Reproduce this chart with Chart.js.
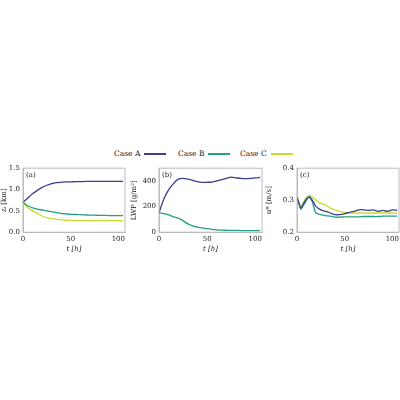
<!DOCTYPE html><html><head><script src="https://cdn.jsdelivr.net/npm/chart.js@4"></script>
<style>body{margin:0;width:400px;height:400px;position:relative;background:#fff;font-family:"DejaVu Serif",serif}
.c{position:absolute}#lg{position:absolute;top:149px;left:0;width:400px;font-size:7.5px;color:#222}
#lg span{position:absolute;white-space:nowrap}#lg i{display:inline-block;width:22px;height:2px;vertical-align:middle;margin-left:4px}</style></head><body>
<div id="lg"><span style="left:114px">Case A<i style="background:#3f3d8f"></i></span><span style="left:178px">Case B<i style="background:#23a083"></i></span><span style="left:240px">Case C<i style="background:#c5de2b"></i></span></div>
<div class="c" style="left:0;top:163px;width:128px;height:90px"><canvas id="a"></canvas></div>
<div class="c" style="left:130px;top:163px;width:134px;height:90px"><canvas id="b"></canvas></div>
<div class="c" style="left:265px;top:163px;width:135px;height:90px"><canvas id="c"></canvas></div>
<script>
const tAB=[0,5,10,15,20,25,30,35,40,45,50,55,60,65,70,75,80,85,90,95,100,105];
const ziA=[0.7,0.8,0.9,0.98,1.05,1.1,1.14,1.16,1.17,1.18,1.18,1.185,1.185,1.19,1.19,1.19,1.19,1.19,1.19,1.19,1.19,1.19];
const ziB=[0.7,0.62,0.57,0.54,0.52,0.5,0.48,0.46,0.44,0.43,0.42,0.415,0.41,0.405,0.4,0.4,0.395,0.395,0.39,0.39,0.39,0.39];
const ziC=[0.7,0.58,0.5,0.44,0.38,0.34,0.32,0.3,0.29,0.28,0.275,0.27,0.27,0.27,0.27,0.27,0.27,0.27,0.27,0.27,0.27,0.27];
const lwpA=[150,260,330,380,415,420,415,405,395,390,390,392,400,410,420,430,425,420,418,420,425,428];
const lwpB=[150,145,135,120,110,90,65,50,40,33,28,22,18,16,15,14,14,13,13,12,12,12];
const tC=[0,2,4,6,8,10,13,16,18,20,25,30,35,40,45,50,55,60,65,70,75,80,85,90,95,100,105];
const usA=[.31,.29,.275,.285,.295,.305,.31,.30,.29,.28,.27,.265,.26,.255,.255,.258,.262,.265,.27,.27,.268,.27,.265,.268,.265,.27,.268];
const usB=[.305,.29,.272,.28,.29,.30,.31,.295,.275,.26,.255,.252,.25,.247,.247,.248,.248,.248,.248,.249,.249,.249,.249,.25,.25,.25,.25];
const usC=[.31,.295,.28,.29,.30,.31,.315,.31,.305,.30,.29,.285,.275,.27,.265,.262,.26,.26,.26,.26,.26,.26,.26,.26,.26,.26,.26];
const xTicks=[0,50,100];
const col={A:'#3f3d8f',B:'#23a083',C:'#c5de2b'};
const F={family:'DejaVu Serif',size:7};
function pts(t,v){return t.map((x,i)=>({x,y:v[i]}));}
function mk(id,sets,ymin,ymax,yt,dec,ylab,yw,tag,pr){
 new Chart(document.getElementById(id),{type:'line',
 data:{datasets:sets.map(s=>({data:s[0],borderColor:s[1],borderWidth:1.3,pointRadius:0,tension:0.3}))},
 options:{responsive:true,maintainAspectRatio:false,animation:false,
 layout:{padding:{top:5,right:pr,left:0,bottom:0}},
 plugins:{legend:{display:false},tooltip:{enabled:false}},
 scales:{x:{type:'linear',min:0,max:107,afterBuildTicks:s=>{s.ticks=xTicks.map(v=>({value:v}))},
   ticks:{font:F,color:'#222',maxRotation:0,autoSkip:false,padding:1},
   grid:{display:false,tickLength:2},border:{color:'#bbb'},title:{display:true,text:'t [h]',font:{...F,style:'italic'},color:'#222',padding:0}},
  y:{min:ymin,max:ymax,afterBuildTicks:s=>{s.ticks=yt.map(v=>({value:v}))},
   ticks:{font:F,color:'#222',autoSkip:false,padding:1,callback:v=>v.toFixed(dec)},
   grid:{display:false,tickLength:2},border:{color:'#bbb'},afterFit:s=>{s.width=yw},
   title:{display:true,text:ylab,font:F,color:'#222',padding:0}}}},
 plugins:[{id:'tg',afterDraw(c){const a=c.chartArea,x=c.ctx;x.save();x.strokeStyle='#bbb';x.strokeRect(a.left,a.top,a.right-a.left,a.bottom-a.top);
  x.font='7px DejaVu Serif';x.fillStyle='#222';x.fillText(tag,a.left+3,a.top+9);x.restore();}}]});
}
mk('a',[[pts(tAB,ziA),col.A],[pts(tAB,ziB),col.B],[pts(tAB,ziC),col.C]],0,1.5,[0,0.5,1,1.5],1,'zᵢ [km]',23,'(a)',3);
mk('b',[[pts(tAB,lwpA),col.A],[pts(tAB,lwpB),col.B]],0,500,[0,200,400],0,'LWP [g/m²]',29,'(b)',2);
mk('c',[[pts(tC,usA),col.A],[pts(tC,usB),col.B],[pts(tC,usC),col.C]],0.2,0.4,[0.2,0.3,0.4],1,'u* [m/s]',32,'(c)',0);
</script></body></html>
